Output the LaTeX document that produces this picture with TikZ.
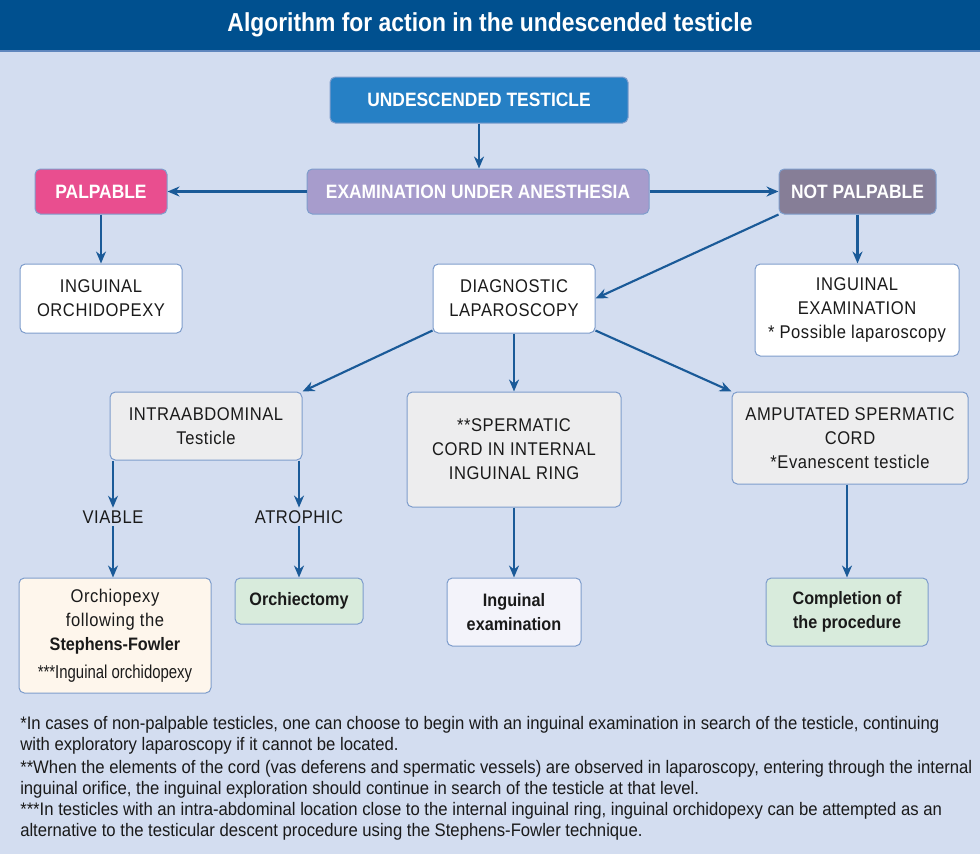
\documentclass[tikz,border=0pt]{standalone}
\usepackage{fontspec}
\setmainfont{Liberation Sans}[FakeStretch=0.9]
\newfontfamily\condfont{Liberation Sans}[FakeStretch=0.8]
\newfontfamily\titlefont{Liberation Sans}[FakeStretch=0.88]
\newfontfamily\notefont{Liberation Sans}[FakeStretch=0.92]
\newfontfamily\spacedfont{Liberation Sans}[FakeStretch=0.9, LetterSpace=3]
\usepackage{tikz}
\usetikzlibrary{arrows.meta, positioning, calc}
\usepackage{xcolor}
\definecolor{titlebg}{HTML}{00508F}
\definecolor{titleline}{HTML}{5F86BD}
\definecolor{pagebg}{HTML}{D3DDF0}
\definecolor{boxline}{HTML}{7E9DCC}
\definecolor{startblue}{HTML}{2680C5}
\definecolor{exampurple}{HTML}{A79CCC}
\definecolor{palppink}{HTML}{E94E8F}
\definecolor{notpalpgray}{HTML}{867E97}
\definecolor{lightgray}{HTML}{EDEDEE}
\definecolor{cream}{HTML}{FEF6EC}
\definecolor{mint}{HTML}{D8EBDC}
\definecolor{paleblue}{HTML}{F3F3FA}
\definecolor{arrowblue}{HTML}{1A5A98}
\definecolor{textdark}{HTML}{1A1A1A}
\tikzset{
    headbox/.style={
        rectangle, rounded corners=4pt, text centered, draw=boxline,
        line width=0.75pt, text=white, font=\fontsize{14.5}{18}\selectfont\bfseries
    },
    infobox/.style={
        rectangle, rounded corners=4pt, align=center, draw=boxline,
        line width=0.75pt, text=textdark, font=\spacedfont\fontsize{13.8}{18}\selectfont
    },
    resultbox/.style={
        infobox, font=\fontsize{13.5}{18}\selectfont\bfseries
    },
    branchlabel/.style={
        text=textdark, font=\spacedfont\fontsize{13.8}{18}\selectfont, inner sep=2pt
    },
    note/.style={
        anchor=north west, align=left, inner sep=0pt, text=textdark,
        font=\notefont\fontsize{13.6}{15.75}\selectfont
    },
    arrow/.style={
        -{Stealth[length=9pt, width=7.5pt]}, line width=1.6pt, draw=arrowblue
    }
}

\begin{document}
\begin{tikzpicture}[x=0.75pt, y=-0.75pt]

    \useasboundingbox (0,0) rectangle (980,854);
    \fill[pagebg] (0,0) rectangle (980,854);
    \fill[titlebg] (0,0) rectangle (980,50);
    \fill[titleline] (0,50) rectangle (980,52);
    \node[text=white, font=\titlefont\fontsize{19.5}{22}\selectfont\bfseries] (title) at (490,25)
        {Algorithm for action in the undescended testicle};

    % first levels
    \node[headbox, fill=startblue, minimum width=223.5pt, minimum height=34.5pt]     (undesc)  at (479,100)   {UNDESCENDED TESTICLE};
    \node[headbox, fill=exampurple, minimum width=256.5pt, minimum height=33.75pt]   (exam)    at (478,191.5) {EXAMINATION UNDER ANESTHESIA};
    \node[headbox, fill=palppink, minimum width=99pt, minimum height=33.75pt]        (palp)    at (101,191.5) {PALPABLE};
    \node[headbox, fill=notpalpgray, minimum width=117.75pt, minimum height=33.75pt] (notpalp) at (857.5,191.5) {NOT PALPABLE};

    \node[infobox, fill=white, minimum width=121.5pt, minimum height=51.75pt] (orchido) at (101,298.5) {INGUINAL\\ORCHIDOPEXY};
    \node[infobox, fill=white, minimum width=121.5pt, minimum height=51.75pt] (diaglap) at (514,298.5) {DIAGNOSTIC\\LAPAROSCOPY};
    \node[infobox, fill=white, minimum width=153pt, minimum height=69pt]      (ingexam) at (857,310)   {INGUINAL\\EXAMINATION\\* Possible laparoscopy};

    % laparoscopy findings
    \node[infobox, fill=lightgray, minimum width=144pt, minimum height=51pt]     (intraabd)  at (206,426)   {INTRAABDOMINAL\\Testicle};
    \node[infobox, fill=lightgray, minimum width=160.5pt, minimum height=86.25pt] (cordring)  at (514,449.5) {**SPERMATIC\\CORD IN INTERNAL\\INGUINAL RING};
    \node[infobox, fill=lightgray, minimum width=177pt, minimum height=69pt]     (amputated) at (850,438)   {AMPUTATED SPERMATIC\\CORD\\*Evanescent testicle};

    \node[branchlabel] (viable)   at (113,517) {VIABLE};
    \node[branchlabel] (atrophic) at (299,517) {ATROPHIC};

    % outcomes
    \node[infobox, fill=cream, minimum width=144pt, minimum height=86.25pt] (stephens) at (115,635.5)
        {Orchiopexy\\following the\\{\fontsize{13.5}{18}\selectfont\normalfont\bfseries Stephens-Fowler}\\[3pt]{\condfont\fontsize{14}{16}\selectfont***Inguinal orchidopexy}};
    \node[resultbox, fill=mint, minimum width=96pt, minimum height=34.5pt]      (orchiect)   at (299,601) {Orchiectomy};
    \node[resultbox, fill=paleblue, minimum width=100.5pt, minimum height=51pt] (ingexamb)   at (514,612) {Inguinal\\examination};
    \node[resultbox, fill=mint, minimum width=121.5pt, minimum height=51pt]     (completion) at (847,612) {Completion of\\the procedure};

    \draw[arrow] (undesc) -- (undesc |- exam.north);
    \draw[arrow] (exam) -- (palp);
    \draw[arrow] (exam) -- (notpalp);
    \draw[arrow] (palp) -- (orchido);
    \draw[arrow] (notpalp) -- (notpalp |- ingexam.north);
    \draw[arrow] (notpalp.south west) -- (diaglap.east);
    \draw[arrow] ($(diaglap.south west)+(0,-3)$) -- (intraabd.north east);
    \draw[arrow] (diaglap) -- (cordring);
    \draw[arrow] ($(diaglap.south east)+(0,-3)$) -- (amputated.north west);
    \draw[arrow] (viable |- intraabd.south) -- (viable.north);
    \draw[arrow] (atrophic |- intraabd.south) -- (atrophic.north);
    \draw[arrow] (viable.south) -- (viable |- stephens.north);
    \draw[arrow] (atrophic.south) -- (atrophic |- orchiect.north);
    \draw[arrow] (cordring) -- (ingexamb);
    \draw[arrow] (amputated.south -| completion.north) -- (completion.north);

    % footnotes
    \node[note] (note1) at (20,716) {*In cases of non-palpable testicles, one can choose to begin with an inguinal examination in search of the testicle, continuing\\with exploratory laparoscopy if it cannot be located.};
    \node[note] (note2) at (20,760) {**When the elements of the cord (vas deferens and spermatic vessels) are observed in laparoscopy, entering through the internal\\inguinal orifice, the inguinal exploration should continue in search of the testicle at that level.};
    \node[note] (note3) at (20,802) {***In testicles with an intra-abdominal location close to the internal inguinal ring, inguinal orchidopexy can be attempted as an\\alternative to the testicular descent procedure using the Stephens-Fowler technique.};

\end{tikzpicture}
\end{document}
